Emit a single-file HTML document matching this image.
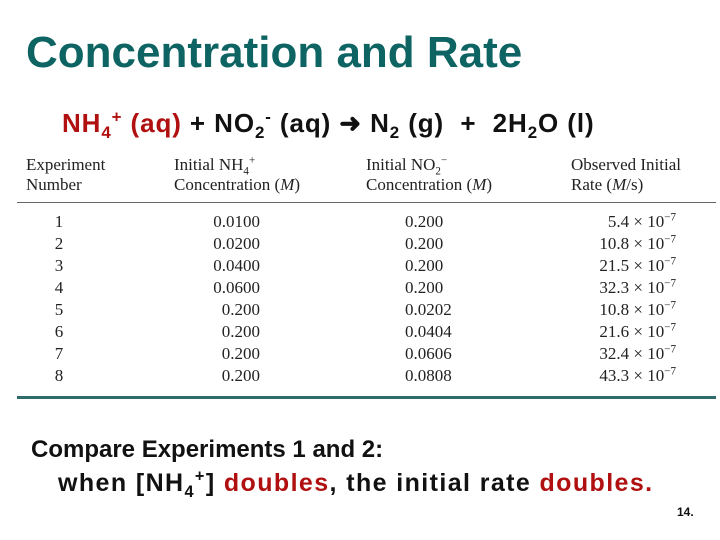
<!DOCTYPE html>
<html><head><meta charset="utf-8"><style>
body{margin:0;width:720px;height:540px;background:#fff;position:relative;overflow:hidden;font-family:"Liberation Sans",sans-serif}
.a{position:absolute;white-space:nowrap}
.s{font-family:"Liberation Serif",serif;font-size:17px;color:#222}
sub,sup{font-size:65%;line-height:0}
.red{color:#b01010}
</style></head><body>
<div class="a" style="left:26px;top:28px;font-size:44px;font-weight:bold;color:#0e6363">Concentration and Rate</div>
<div class="a" style="left:62px;top:108px;font-size:26px;font-weight:bold;color:#111;letter-spacing:0.9px"><span class="red">NH<sub>4</sub><sup>+</sup> (aq)</span> + NO<sub>2</sub><sup>-</sup> (aq) &#10140; N<sub>2</sub> (g) &nbsp;+ &nbsp;2H<sub>2</sub>O (l)</div>
<div class="a s" style="left:26px;top:155px;line-height:20px">Experiment<br>Number</div>
<div class="a s" style="left:174px;top:155px;line-height:20px">Initial NH<sub>4</sub><sup>+</sup><br>Concentration (<i>M</i>)</div>
<div class="a s" style="left:366px;top:155px;line-height:20px">Initial NO<sub>2</sub><sup>&minus;</sup><br>Concentration (<i>M</i>)</div>
<div class="a s" style="left:571px;top:155px;line-height:20px">Observed Initial<br>Rate (<i>M</i>/s)</div>
<div class="a" style="left:17px;top:202px;width:699px;height:1px;background:#666"></div>
<div class="a" style="left:17px;top:396px;width:699px;height:3px;background:#2f6b6b"></div>
<div id="rows"></div>
<div class="a" style="left:31px;top:436px;font-size:24px;font-weight:bold;color:#111">Compare Experiments 1 and 2:</div>
<div class="a" style="left:58px;top:469px;font-size:25px;font-weight:bold;color:#111;letter-spacing:1.4px">when [NH<sub>4</sub><sup>+</sup>] <span class="red">doubles</span>, the initial rate <span class="red">doubles.</span></div>
<div class="a" style="left:677px;top:505px;font-size:12px;font-weight:bold;color:#111">14.</div>
<script>
const experiments=["1","2","3","4","5","6","7","8"];
const nh4=["0.0100","0.0200","0.0400","0.0600","0.200","0.200","0.200","0.200"];
const no2=["0.200","0.200","0.200","0.200","0.0202","0.0404","0.0606","0.0808"];
const rates=["5.4","10.8","21.5","32.3","10.8","21.6","32.4","43.3"];
const host=document.getElementById('rows');
function cell(txt,style,name){
  const d=document.createElement('div');
  d.className='a s';
  d.setAttribute('style',style);
  d.innerHTML=txt;
  
  
  host.appendChild(d);
}
experiments.forEach((e,i)=>{
  const top=212+i*22;
  cell(e,`left:44px;width:30px;text-align:center;top:${top}px`,'experiment-number');
  cell(nh4[i],`right:460px;top:${top}px`,'nh4-concentration');
  cell(no2[i],`left:405px;top:${top}px`,'no2-concentration');
  cell(rates[i]+' &times; 10<sup>&minus;7</sup>',`right:44px;top:${top}px`,'observed-rate');
});
</script>
</body></html>
